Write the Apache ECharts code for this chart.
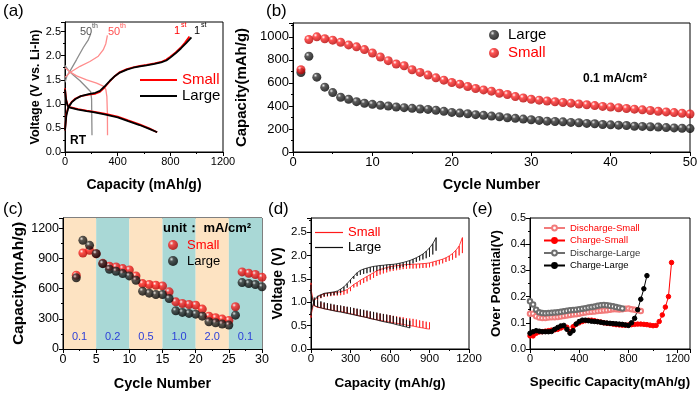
<!DOCTYPE html>
<html>
<head>
<meta charset="utf-8">
<script src="https://cdn.jsdelivr.net/npm/echarts@6/dist/echarts.min.js"></script>
<style>
html, body { margin: 0; padding: 0; background: #fff; }
#main { width: 700px; height: 394px; }
</style>
</head>
<body>
<div id="main"></div>
<script>
var FONT = 'Liberation Sans, Arial, sans-serif';

/* (a) 1st / 50th charge-discharge curves */
var aLargeDis1Cap = [0, 8, 20, 38, 100, 164, 214, 300, 400, 480, 566, 640, 700];
var aLargeDis1V = [1.3, 1.08, 0.96, 0.92, 0.88, 0.85, 0.83, 0.78, 0.72, 0.64, 0.56, 0.48, 0.41];
var aSmallDis1Cap = [0, 8, 20, 38, 100, 164, 214, 300, 400, 480, 566, 640, 700];
var aSmallDis1V = [1.32, 1.1, 0.97, 0.93, 0.89, 0.86, 0.84, 0.795, 0.735, 0.655, 0.575, 0.49, 0.41];
var aLargeCh1Cap = [0, 10, 25, 50, 80, 120, 180, 230, 265, 300, 341, 380, 417, 470, 518, 570, 619, 680, 730, 770, 800, 840, 880, 920, 960];
var aLargeCh1V = [0.45, 0.75, 0.92, 1.03, 1.1, 1.16, 1.2, 1.23, 1.27, 1.36, 1.48, 1.58, 1.65, 1.71, 1.75, 1.78, 1.8, 1.83, 1.86, 1.9, 1.96, 2.05, 2.15, 2.26, 2.38];
var aSmallCh1Cap = [0, 10, 25, 50, 80, 120, 180, 230, 265, 300, 341, 380, 417, 470, 518, 570, 619, 680, 730, 770, 800, 840, 880, 910, 945];
var aSmallCh1V = [0.45, 0.78, 0.94, 1.04, 1.11, 1.16, 1.19, 1.21, 1.25, 1.34, 1.47, 1.58, 1.66, 1.72, 1.76, 1.79, 1.81, 1.84, 1.87, 1.92, 1.98, 2.07, 2.17, 2.27, 2.4];
var aLargeDis50Cap = [0, 30, 63, 114, 164, 195, 202, 204, 205];
var aLargeDis50V = [1.8, 1.68, 1.6, 1.48, 1.34, 1.25, 1.1, 0.6, 0.35];
var aLargeCh50Cap = [0, 15, 38, 88, 139, 177, 195];
var aLargeCh50V = [1.45, 1.58, 1.68, 1.92, 2.17, 2.33, 2.45];
var aSmallDis50Cap = [0, 40, 88, 164, 240, 290, 310, 318, 322, 323];
var aSmallDis50V = [1.75, 1.66, 1.58, 1.5, 1.43, 1.37, 1.3, 1.15, 0.8, 0.35];
var aSmallCh50Cap = [0, 38, 114, 189, 253, 290, 310, 322];
var aSmallCh50V = [1.55, 1.65, 1.78, 1.88, 1.99, 2.12, 2.25, 2.42];

/* (b) cycling at 0.1 mA/cm2 */
var bCycles = [1, 2, 3, 4, 5, 6, 7, 8, 9, 10, 11, 12, 13, 14, 15, 16, 17, 18, 19, 20, 21, 22, 23, 24, 25,
    26, 27, 28, 29, 30, 31, 32, 33, 34, 35, 36, 37, 38, 39, 40, 41, 42, 43, 44, 45, 46, 47, 48, 49, 50];
var bLarge = [690, 831, 650, 563, 516, 475, 458, 437, 423, 414, 405, 399, 391, 385, 379, 373, 370, 362, 353, 344, 338, 332, 324, 318, 312,
    306, 297, 292, 286, 280, 274, 268, 265, 262, 257, 254, 248, 245, 239, 236, 233, 230, 224, 222, 219, 216, 212, 209, 206, 203];
var bSmall = [714, 977, 1000, 983, 971, 953, 930, 913, 889, 860, 825, 793, 764, 749, 714, 691, 668, 644, 624, 603, 589, 569, 551, 539, 528,
    510, 499, 481, 469, 458, 450, 443, 436, 430, 424, 417, 410, 403, 396, 390, 384, 378, 372, 366, 360, 354, 348, 342, 336, 330];

/* (c) rate test */
var cCycles = [2, 3, 4, 5, 6, 7, 8, 9, 10, 11, 12, 13, 14, 15, 16, 17, 18, 19, 20, 21, 22, 23, 24, 25, 26, 27, 28, 29, 30];
var cSmall = [732, 953, 979, 945, 850, 821, 814, 798, 785, 725, 649, 640, 633, 626, 567, 468, 452, 442, 435, 396, 326, 310, 297, 284, 419, 765, 752, 739, 712];
var cLarge = [706, 1078, 1029, 946, 847, 791, 771, 748, 725, 682, 574, 554, 541, 541, 501, 379, 363, 353, 346, 326, 270, 260, 247, 237, 336, 659, 650, 640, 617];
var cBandStart = [0, 5, 10, 15, 20, 25];
var cBandEnd = [5, 10, 15, 20, 25, 30];
var cBandRate = ['0.1', '0.2', '0.5', '1.0', '2.0', '0.1'];

/* (d)/(e) GITT: closed-circuit voltage and over potential per pulse */
var capSmallDis = [0, 25, 50, 75, 100, 125, 150, 175, 200, 225, 250, 275, 300, 325, 350, 375, 400, 425, 450, 475, 500, 525, 550, 575, 600,
    625, 650, 675, 700, 725, 750, 775, 800, 825, 850, 875, 900];
var vSmallDis = [1.28, 0.92, 0.89, 0.88, 0.86, 0.85, 0.835, 0.82, 0.81, 0.80, 0.785, 0.77, 0.755, 0.74, 0.72, 0.705, 0.69, 0.675, 0.655, 0.64,
    0.625, 0.61, 0.60, 0.585, 0.575, 0.56, 0.55, 0.535, 0.525, 0.51, 0.50, 0.49, 0.475, 0.46, 0.45, 0.435, 0.425];
var etaSmallDis = [0.135, 0.135, 0.125, 0.12, 0.118, 0.118, 0.12, 0.121, 0.121, 0.122, 0.124, 0.126, 0.128, 0.13, 0.132, 0.133, 0.135, 0.137,
    0.139, 0.141, 0.142, 0.143, 0.145, 0.146, 0.147, 0.148, 0.15, 0.152, 0.152, 0.151, 0.152, 0.154, 0.155, 0.152, 0.15, 0.148, 0.145];

var capLargeDis = [0, 25, 50, 75, 100, 125, 150, 175, 200, 225, 250, 275, 300, 325, 350, 375, 400, 425, 450, 475, 500, 525, 550, 575, 600,
    625, 650, 675, 700, 725, 750];
var vLargeDis = [1.19, 0.93, 0.90, 0.88, 0.86, 0.845, 0.83, 0.815, 0.80, 0.79, 0.775, 0.76, 0.745, 0.73, 0.715, 0.70, 0.685, 0.67, 0.65,
    0.635, 0.62, 0.60, 0.585, 0.57, 0.555, 0.54, 0.52, 0.505, 0.485, 0.47, 0.45];
var etaLargeDis = [0.182, 0.17, 0.15, 0.14, 0.137, 0.136, 0.137, 0.138, 0.139, 0.14, 0.142, 0.144, 0.146, 0.148, 0.149, 0.15, 0.152, 0.154,
    0.156, 0.158, 0.16, 0.162, 0.165, 0.167, 0.168, 0.167, 0.165, 0.163, 0.16, 0.157, 0.155];

var capSmallCh = [0, 25, 50, 75, 100, 125, 150, 175, 200, 225, 250, 275, 300, 325, 350, 375, 400, 425, 450, 475, 500, 525, 550, 575, 600,
    625, 650, 675, 700, 725, 750, 775, 800, 825, 850, 875, 900, 925, 950, 975, 1000, 1025, 1050, 1075, 1100, 1125, 1150];
var vSmallCh = [0.72, 1.03, 1.11, 1.15, 1.18, 1.19, 1.20, 1.21, 1.215, 1.225, 1.24, 1.27, 1.32, 1.38, 1.42, 1.47, 1.51, 1.55, 1.59, 1.63,
    1.67, 1.70, 1.72, 1.74, 1.76, 1.77, 1.78, 1.79, 1.80, 1.805, 1.81, 1.81, 1.815, 1.82, 1.825, 1.83, 1.84, 1.86, 1.88, 1.90, 1.92, 1.95,
    1.99, 2.04, 2.11, 2.20, 2.38];
var etaSmallCh = [0.05, 0.05, 0.06, 0.065, 0.066, 0.068, 0.07, 0.072, 0.073, 0.075, 0.08, 0.085, 0.083, 0.066, 0.085, 0.095, 0.1, 0.105,
    0.108, 0.11, 0.11, 0.108, 0.105, 0.103, 0.1, 0.098, 0.097, 0.095, 0.093, 0.092, 0.091, 0.091, 0.092, 0.093, 0.094, 0.095, 0.095, 0.094,
    0.093, 0.091, 0.089, 0.09, 0.105, 0.13, 0.16, 0.2, 0.33];

var capLargeCh = [0, 25, 50, 75, 100, 125, 150, 175, 200, 225, 250, 275, 300, 325, 350, 375, 400, 425, 450, 475, 500, 525, 550, 575, 600,
    625, 650, 675, 700, 725, 750, 775, 800, 825, 850, 875, 900, 925, 950];
var vLargeCh = [0.78, 1.06, 1.13, 1.16, 1.19, 1.20, 1.21, 1.22, 1.24, 1.28, 1.33, 1.40, 1.48, 1.56, 1.63, 1.68, 1.71, 1.73, 1.75, 1.765,
    1.775, 1.785, 1.79, 1.80, 1.805, 1.81, 1.82, 1.835, 1.85, 1.87, 1.89, 1.92, 1.95, 1.99, 2.03, 2.09, 2.16, 2.25, 2.38];
var etaLargeCh = [0.06, 0.066, 0.07, 0.068, 0.066, 0.066, 0.066, 0.067, 0.075, 0.082, 0.088, 0.09, 0.075, 0.06, 0.07, 0.095, 0.105, 0.11,
    0.11, 0.108, 0.106, 0.105, 0.104, 0.102, 0.1, 0.099, 0.098, 0.097, 0.096, 0.095, 0.094, 0.092, 0.09, 0.1, 0.117, 0.15, 0.19, 0.23, 0.28];


var Page = {

    chart: null,

    init: function () {
        this.chart = echarts.init(document.getElementById('main'));
        this.chart.setOption({
            animation: false,
            backgroundColor: '#fff',
            grid: [
                this.grid(65, 22, 158, 130),
                this.grid(293, 23, 397, 129),
                this.grid(63, 218, 199, 131),
                this.grid(311, 218, 158, 131),
                this.grid(530, 218, 160, 131)
            ],
            xAxis: [
                this.axis(0, 0, 1200, 400, 11, 'Capacity (mAh/g)', 26, 14, null, 2, false),
                this.axis(1, 0, 50, 10, 13, 'Cycle Number', 25, 14.5, null, 2, false),
                this.axis(2, 0, 30, 5, 12.5, 'Cycle Number', 27, 14.5, null, 2, false),
                this.axis(3, 0, 1200, 300, 11.5, 'Capacity (mAh/g)', 27, 13.5, null, 2, false),
                this.axis(4, 0, 1300, 400, 11, 'Specific Capacity(mAh/g)', 27, 13.3, null, 2, true)
            ],
            yAxis: [
                this.axis(0, 0, 2.7, 0.5, 11, 'Voltage (V vs. Li-In)', 21, 12.5, this.fix1, 2, true),
                this.axis(1, 0, 1120, 200, 13, 'Capacity(mAh/g)', 35, 15, null, 2, true),
                this.axis(2, 0, 1300, 300, 12.5, 'Capacity(mAh/g)', 36, 15.5, null, 2, true),
                this.axis(3, 0, 2.8, 0.5, 11.5, 'Voltage (V)', 26, 14, this.fix1, 2, true),
                this.axis(4, 0, 0.5, 0.1, 11, 'Over Potential(V)', 27, 13.2, this.fix1, 2, false)
            ],
            legend: this.legends(),
            series: [].concat(this.series_a(), this.series_b(), this.series_c(), this.series_d(), this.series_e()),
            graphic: this.texts()
        });
    },

    fix1: function (v) {
        return v.toFixed(1);
    },

    plain: function (v) {
        return String(v);
    },

    grid: function (l, t, w, h) {
        return {left: l, top: t, width: w, height: h, show: true, borderColor: '#000', borderWidth: 1,
            backgroundColor: 'transparent', containLabel: false, outerBoundsMode: 'none'};
    },

    axis: function (g, min, max, step, fs, name, gap, nfs, fmt, minor, hideMax) {
        return {
            type: 'value', gridIndex: g, min: min, max: max, interval: step,
            name: name, nameLocation: 'middle', nameGap: gap,
            nameTextStyle: {fontFamily: FONT, fontWeight: 'bold', fontSize: nfs, color: '#000'},
            axisLine: {show: true, onZero: false, lineStyle: {color: '#000', width: 1}},
            axisTick: {show: true, inside: false, length: 4, lineStyle: {color: '#000'}},
            minorTick: {show: true, splitNumber: minor, length: 2, lineStyle: {color: '#000'}},
            splitLine: {show: false},
            minorSplitLine: {show: false},
            axisLabel: {fontFamily: FONT, fontSize: fs, color: '#000', margin: 4,
                showMaxLabel: hideMax ? false : true, formatter: fmt || this.plain}
        };
    },

    pairs: function (xs, ys) {
        var out = [];
        for (var i = 0; i < xs.length; i++) out.push([xs[i], ys[i]]);
        return out;
    },

    line: function (name, g, data, color, width) {
        return {name: name, type: 'line', xAxisIndex: g, yAxisIndex: g, data: data, symbol: 'none',
            lineStyle: {color: color, width: width}, itemStyle: {color: color}};
    },

    series_a: function () {
        var p = this.pairs;
        return [
            this.line('a|50L', 0, p(aLargeDis50Cap, aLargeDis50V), '#8c8c8c', 1.3),
            this.line('a|50L', 0, p(aLargeCh50Cap, aLargeCh50V), '#8c8c8c', 1.3),
            this.line('a|50S', 0, p(aSmallDis50Cap, aSmallDis50V), '#ff8c8c', 1.3),
            this.line('a|50S', 0, p(aSmallCh50Cap, aSmallCh50V), '#ff8c8c', 1.3),
            this.line('a|Small', 0, p(aSmallDis1Cap, aSmallDis1V), '#ff0000', 1.8),
            this.line('a|Small', 0, p(aSmallCh1Cap, aSmallCh1V), '#ff0000', 1.8),
            this.line('a|Large', 0, p(aLargeDis1Cap, aLargeDis1V), '#000000', 1.8),
            this.line('a|Large', 0, p(aLargeCh1Cap, aLargeCh1V), '#000000', 1.8)
        ];
    },

    sphere: function (hi, base, dark) {
        return {type: 'radial', x: 0.35, y: 0.32, r: 0.7,
            colorStops: [{offset: 0, color: hi}, {offset: 0.3, color: base}, {offset: 1, color: dark}]};
    },

    redBall: function () { return this.sphere('#ffffff', '#ff2a2a', '#b30000'); },
    blackBall: function () { return this.sphere('#e6e6e6', '#333333', '#000000'); },

    series_b: function () {
        return [
            {name: 'b|Large', type: 'scatter', xAxisIndex: 1, yAxisIndex: 1, symbolSize: 9,
                data: this.pairs(bCycles, bLarge), itemStyle: {color: this.blackBall()}},
            {name: 'b|Small', type: 'scatter', xAxisIndex: 1, yAxisIndex: 1, symbolSize: 9,
                data: this.pairs(bCycles, bSmall), itemStyle: {color: this.redBall()}}
        ];
    },

    series_c: function () {
        var areas = [];
        for (var i = 0; i < cBandStart.length; i++) {
            areas.push([
                {name: cBandRate[i], xAxis: cBandStart[i], itemStyle: {color: i % 2 === 0 ? '#fde3c2' : '#a9d8d6'}},
                {xAxis: cBandEnd[i]}
            ]);
        }
        return [
            {name: 'c|Small', type: 'scatter', xAxisIndex: 2, yAxisIndex: 2, symbolSize: 9,
                data: this.pairs(cCycles, cSmall), itemStyle: {color: this.redBall()},
                markArea: {silent: true, z: 0,
                    label: {show: true, position: 'insideBottom', distance: 7, color: '#2c3fd8',
                        fontSize: 11, fontFamily: FONT},
                    data: areas}},
            {name: 'c|Large', type: 'scatter', xAxisIndex: 2, yAxisIndex: 2, symbolSize: 9,
                data: this.pairs(cCycles, cLarge), itemStyle: {color: this.blackBall()}}
        ];
    },

    // GITT trace: pulse line with a relaxation spike at each step
    gitt: function (cap, v, eta, sign) {
        var out = [];
        for (var i = 0; i < cap.length; i++) {
            out.push([cap[i], v[i]]);
            out.push([cap[i], v[i] + sign * eta[i]]);
            out.push([cap[i], v[i]]);
        }
        return out;
    },

    series_d: function () {
        return [
            this.line('d|Small', 3, this.gitt(capSmallCh, vSmallCh, etaSmallCh, -1), '#ff1a1a', 0.8),
            this.line('d|Small', 3, this.gitt(capSmallDis, vSmallDis, etaSmallDis, 1), '#ff1a1a', 0.8),
            this.line('d|Large', 3, this.gitt(capLargeCh, vLargeCh, etaLargeCh, -1), '#111111', 0.8),
            this.line('d|Large', 3, this.gitt(capLargeDis, vLargeDis, etaLargeDis, 1), '#111111', 0.8)
        ];
    },

    eline: function (name, cap, eta, color, symbol) {
        return {name: name, type: 'line', xAxisIndex: 4, yAxisIndex: 4, data: this.pairs(cap, eta),
            symbol: symbol, symbolSize: 4.5, showSymbol: true,
            lineStyle: {color: color, width: 1}, itemStyle: {color: color, borderColor: color, borderWidth: 1}};
    },

    series_e: function () {
        return [
            this.eline('e|Discharge-Small', capSmallDis, etaSmallDis, '#f27b7b', 'emptyCircle'),
            this.eline('e|Charge-Small', capSmallCh, etaSmallCh, '#ff0000', 'circle'),
            this.eline('e|Discharge-Large', capLargeDis, etaLargeDis, '#6e6e6e', 'emptyCircle'),
            this.eline('e|Charge-Large', capLargeCh, etaLargeCh, '#000000', 'circle')
        ];
    },

    legend: function (left, top, iw, ih, gap, fs, items, icon) {
        var lg = {
            left: left, top: top, orient: 'vertical', padding: 0, itemGap: gap,
            itemWidth: iw, itemHeight: ih, selectedMode: false,
            textStyle: {fontFamily: FONT, fontSize: fs, color: '#000'},
            formatter: function (n) { return n.split('|')[1]; },
            data: items
        };
        if (icon) lg.icon = icon;
        return lg;
    },

    legends: function () {
        var red = {color: '#ff0000'};
        var blk = {color: '#000000'};
        return [
            this.legend(140, 72.5, 37, 2, 1, 15, [{name: 'a|Small', textStyle: red}, {name: 'a|Large', textStyle: blk}], 'rect'),
            this.legend(489, 27.5, 18, 10, 3, 15, [{name: 'b|Large', textStyle: blk}, {name: 'b|Small', textStyle: red}]),
            this.legend(168, 238.5, 18, 10, 3, 13, [{name: 'c|Small', textStyle: red}, {name: 'c|Large', textStyle: blk}]),
            this.legend(315, 226, 28, 1.2, 2, 13, [{name: 'd|Small', textStyle: red}, {name: 'd|Large', textStyle: blk}], 'rect'),
            this.legend(543, 223, 21, 6, 2.5, 9.5, [
                {name: 'e|Discharge-Small', textStyle: red},
                {name: 'e|Charge-Small', textStyle: red},
                {name: 'e|Discharge-Large', textStyle: {color: '#333'}},
                {name: 'e|Charge-Large', textStyle: blk}
            ])
        ];
    },

    txt: function (x, y, s, size, color, weight) {
        return {type: 'text', left: x, top: y, z: 100,
            style: {text: s, fontFamily: FONT, fontSize: size, fill: color || '#000', fontWeight: weight || 'normal'}};
    },

    texts: function () {
        return [
            this.txt(3, 3, '(a)', 17),
            this.txt(266, 3, '(b)', 17),
            this.txt(3, 201, '(c)', 17),
            this.txt(268, 201, '(d)', 17),
            this.txt(472, 201, '(e)', 17),
            this.txt(80, 26, '50', 11, '#555'),
            this.txt(92, 23, 'th', 7, '#555'),
            this.txt(108, 26, '50', 11, '#ff5050'),
            this.txt(120, 23, 'th', 7, '#ff5050'),
            this.txt(174, 25, '1', 11, '#ff0000'),
            this.txt(181, 22, 'st', 7, '#ff0000'),
            this.txt(194, 25, '1', 11, '#000'),
            this.txt(201, 22, 'st', 7, '#000'),
            this.txt(70, 135, 'RT', 12, '#000', 'bold'),
            this.txt(583, 73, '0.1 mA/cm\u00b2', 12, '#000', 'bold'),
            this.txt(163, 222, 'unit\uff1a mA/cm\u00b2', 13, '#000', 'bold')
        ];
    }
};

Page.init();
</script>
</body>
</html>
